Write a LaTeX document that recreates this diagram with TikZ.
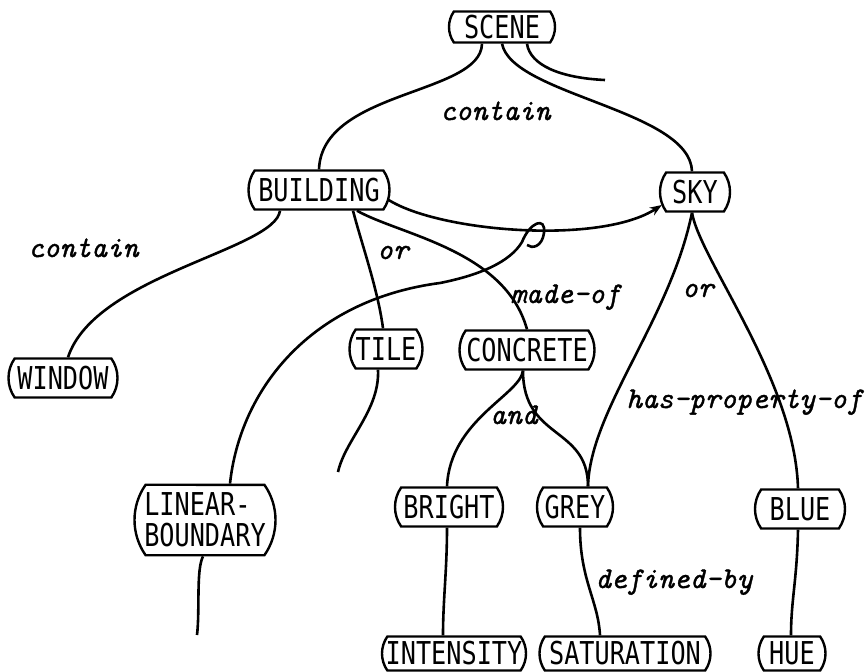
\documentclass[tikz,border=0pt]{standalone}
\usepackage{fontspec}
\usetikzlibrary{shapes.misc,arrows.meta}
\newfontfamily\conceptfont[FakeStretch=0.8]{DejaVu Sans Mono}
\newfontfamily\relfont{lmmono10-italic}[Extension=.otf, FakeBold=1.2]
\begin{document}
\begin{tikzpicture}[x=1pt,y=-1pt,
  concept/.style={rounded rectangle, rounded rectangle arc length=70, draw,
    line width=2.4pt, inner xsep=2pt, inner ysep=0pt, minimum height=39pt,
    font=\conceptfont\fontsize{31.5}{31}\selectfont},
  link/.style={line width=2.6pt},
  rel/.style={anchor=base west, inner sep=0pt,
    font=\relfont\fontsize{30}{32}\selectfont}]
\useasboundingbox (0,0) rectangle (868,672);

% concept nodes
\node[concept, minimum width=110pt, minimum height=31pt] (scene) at (502,27) {SCENE};
\node[concept, minimum width=145pt] (building) at (319,190) {BUILDING};
\node[concept, minimum width=74pt] (sky) at (695,192) {SKY};
\node[concept, minimum width=113pt] (window) at (63,378) {WINDOW};
\node[concept, minimum width=77pt] (tile) at (386,349) {TILE};
\node[concept, minimum width=139pt] (concrete) at (527,350) {CONCRETE};
\node[concept, align=left, inner ysep=8pt, minimum width=145pt] (linear) at (205,520) {LINEAR-\\BOUNDARY};
\node[concept, minimum width=112pt] (bright) at (449,507) {BRIGHT};
\node[concept, minimum width=80pt] (grey) at (575,507) {GREY};
\node[concept, minimum width=94pt] (blue) at (800,509) {BLUE};
\node[concept, minimum height=34pt, minimum width=148pt] (intensity) at (454,653.5) {INTENSITY};
\node[concept, minimum height=34pt, minimum width=175pt] (saturation) at (625,653.5) {SATURATION};
\node[concept, minimum height=34pt, minimum width=71pt] (hue) at (792,653.5) {HUE};

% loose ends
\coordinate (sceneend) at (605,80);
\coordinate (tileend) at (338,472);
\coordinate (linearend) at (197,635);
\coordinate (loopend) at (527,245);

% connectors
\draw[link] ([xshift=-20pt]scene.south) .. controls (481,95) and (322,90) .. (building.north);
\draw[link] (scene.south) .. controls (512,95) and (690,110) .. ([xshift=-3pt]sky.north);
\draw[link] ([xshift=25pt]scene.south) .. controls (530,65) and (560,78) .. (sceneend);

\draw[link,-{Stealth[length=12pt,width=9pt]}] ([xshift=-2pt,yshift=-10pt]building.east)
  .. controls (440,232) and (600,245) .. ([xshift=3pt,yshift=-13pt]sky.west);

\draw[link] ([xshift=25pt]linear.north) .. controls (240,390) and (310,300) .. (440,283)
  .. controls (480,275) and (510,262) .. (522,242)
  .. controls (530,222) and (546,216) .. (544,233)
  .. controls (542,247) and (532,249) .. (loopend);

\draw[link] ([xshift=-39pt]building.south) .. controls (275,250) and (95,275) .. ([xshift=5pt]window.north);
\draw[link] ([xshift=34pt]building.south) .. controls (362,245) and (378,290) .. ([xshift=-3pt]tile.north);
\draw[link] ([xshift=-8pt]tile.south) .. controls (380,410) and (345,440) .. (tileend);
\draw[link] ([xshift=38pt]building.south) .. controls (400,235) and (505,250) .. (concrete.north);

\draw[link] ([xshift=-3pt]sky.south) .. controls (670,320) and (590,410) .. ([xshift=13pt]grey.north);
\draw[link] ([xshift=-3pt]sky.south) .. controls (700,260) and (795,380) .. ([xshift=-2pt]blue.north);

\draw[link] ([xshift=-4pt]concrete.south) .. controls (520,395) and (450,420) .. ([xshift=-2pt]bright.north);
\draw[link] ([xshift=-4pt]concrete.south) .. controls (523,440) and (588,426) .. ([xshift=13pt]grey.north);

\draw[link] ([xshift=-2pt]bright.south) .. controls (447,570) and (443,600) .. ([xshift=-11pt]intensity.north);
\draw[link] ([xshift=5pt]grey.south) .. controls (580,580) and (598,600) .. ([xshift=-25pt]saturation.north);
\draw[link] ([xshift=-2pt]blue.south) .. controls (797,580) and (791,600) .. ([xshift=-1pt]hue.north);
\draw[link] ([xshift=-2pt]linear.south) .. controls (196,570) and (200,610) .. (linearend);

% relation labels
\node[rel] (contain1) at (440,120) {contain};
\node[rel] (contain2) at (28,257) {contain};
\node[rel] (or1) at (377,259) {or};
\node[rel] (madeof) at (510,303) {made-of};
\node[rel] (or2) at (682,297) {or};
\node[rel] (hasprop) at (626,408) {has-property-of};
\node[rel] (and) at (490,424) {and};
\node[rel] (defby) at (595,588) {defined-by};
\end{tikzpicture}
\end{document}
